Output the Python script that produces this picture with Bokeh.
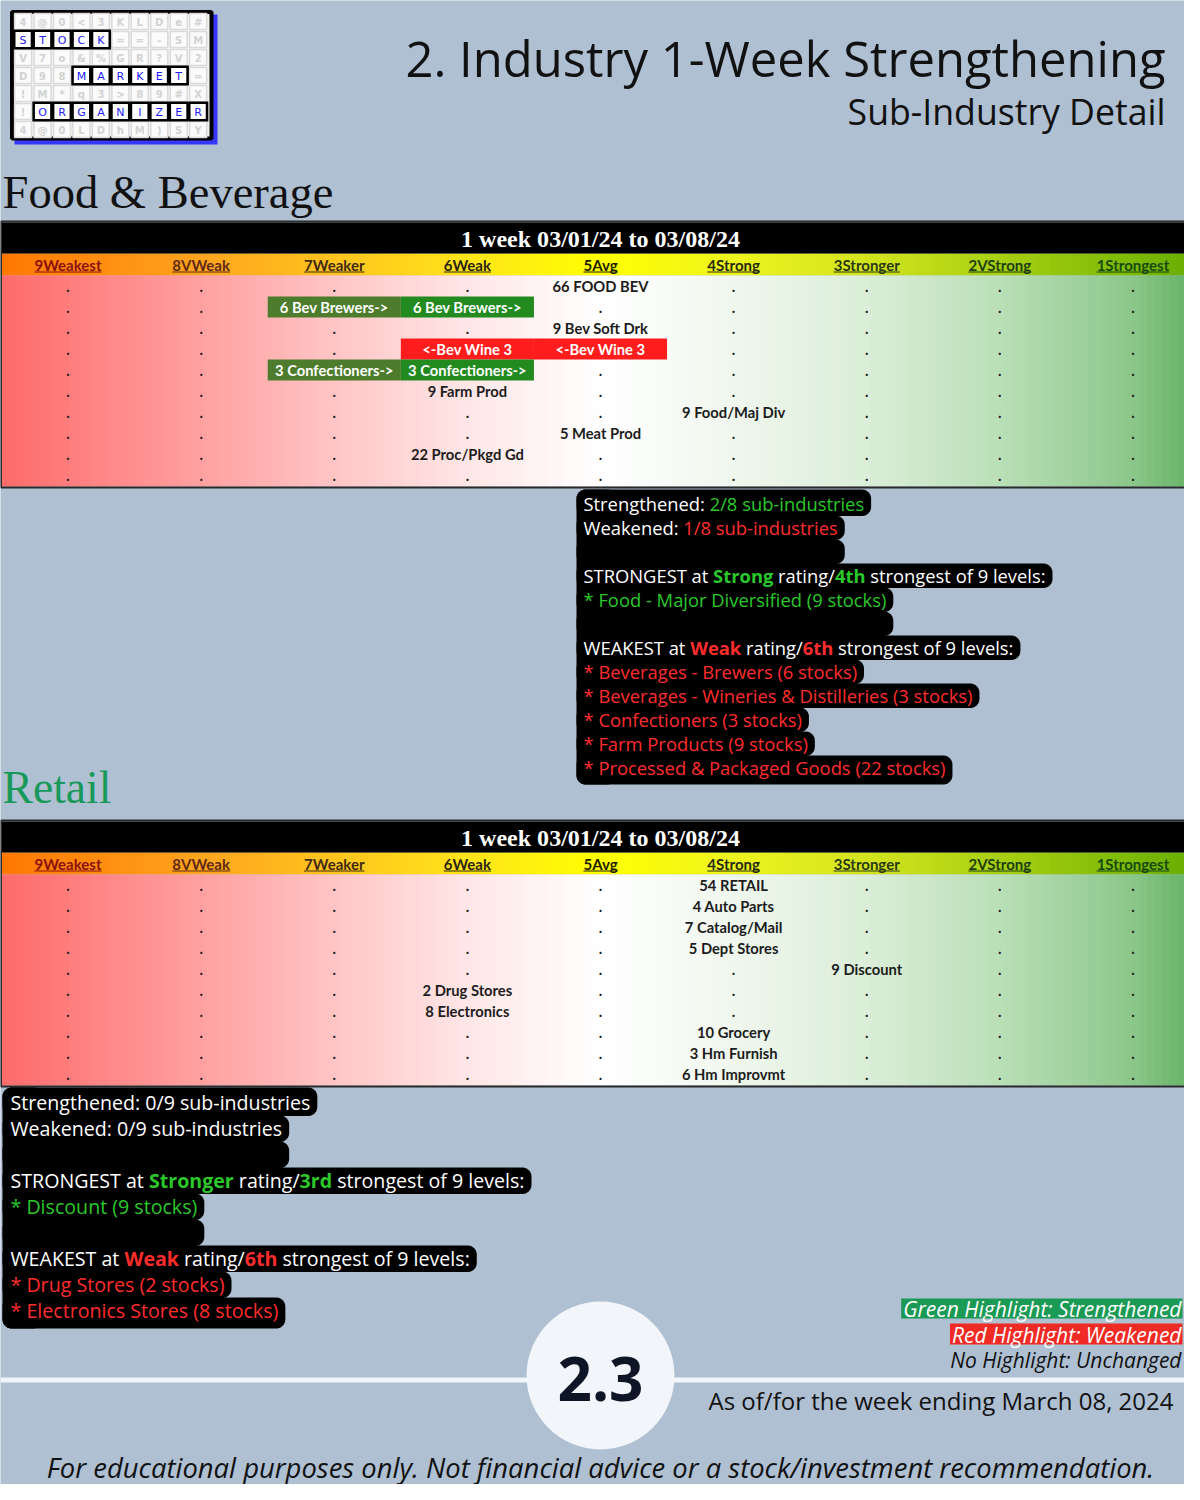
import subprocess
from functools import lru_cache
import numpy as np
from bokeh.plotting import figure
from bokeh.models import Range1d, ColumnDataSource
from bokeh.core.properties import value
from bokeh.embed import file_html
from bokeh.resources import INLINE

try:
    from PIL import ImageFont
except Exception:
    ImageFont = None

# ---------------- data ----------------
title_text = "2. Industry 1-Week Strengthening"
subtitle_text = "Sub-Industry Detail"
period_text = "1 week 03/01/24 to 03/08/24"
levels = ["9Weakest", "8VWeak", "7Weaker", "6Weak", "5Avg", "4Strong", "3Stronger", "2VStrong", "1Strongest"]
level_nums = [9, 8, 7, 6, 5, 4, 3, 2, 1]

food_name = "Food & Beverage"
food_labels = ["66 FOOD BEV", "6 Bev Brewers", "9 Bev Soft Drk", "Bev Wine 3", "3 Confectioners",
               "9 Farm Prod", "9 Food/Maj Div", "5 Meat Prod", "22 Proc/Pkgd Gd"]
food_now = [5, 6, 5, 6, 6, 6, 4, 5, 6]
food_prev = [5, 7, 5, 5, 7, 6, 4, 5, 6]
food_counts = [2, 1, 8]
food_strong = ["Strong", "4th", ["Food - Major Diversified (9 stocks)"]]
food_weak = ["Weak", "6th", ["Beverages - Brewers (6 stocks)",
                             "Beverages - Wineries & Distilleries (3 stocks)",
                             "Confectioners (3 stocks)",
                             "Farm Products (9 stocks)",
                             "Processed & Packaged Goods (22 stocks)"]]

retail_name = "Retail"
retail_labels = ["54 RETAIL", "4 Auto Parts", "7 Catalog/Mail", "5 Dept Stores", "9 Discount",
                 "2 Drug Stores", "8 Electronics", "10 Grocery", "3 Hm Furnish", "6 Hm Improvmt"]
retail_now = [4, 4, 4, 4, 3, 6, 6, 4, 4, 4]
retail_prev = [4, 4, 4, 4, 3, 6, 6, 4, 4, 4]
retail_counts = [0, 0, 9]
retail_strong = ["Stronger", "3rd", ["Discount (9 stocks)"]]
retail_weak = ["Weak", "6th", ["Drug Stores (2 stocks)", "Electronics Stores (8 stocks)"]]

legend_texts = ["Green Highlight: Strengthened", "Red Highlight: Weakened", "No Highlight: Unchanged"]
section_no = "2.3"
asof_text = "As of/for the week ending March 08, 2024"
footer_text = "For educational purposes only. Not financial advice or a stock/investment recommendation."
logo_rows = ["4@0<3KLDe#", "STOCK==-SM", "V7o&%GR?V2", "D98MARKET=", "!M*q3>89#X", "!ORGANIZER", "4@0LDhM)SY"]
logo_words = [(1, 0, 5), (3, 3, 6), (5, 1, 9)]

# ---------------- styles ----------------
BG = "#aec0d2"
WHITE = "#ffffff"
GREEN_T = "#2ac82a"
RED_T = "#ff2c2c"
SANS = "Open Sans"
TABLE_FONT = "Lato"
SERIF = "Liberation Serif"
header_colors = ["#8b1010", "#5e2a14", "#3f2a10", "#2b2510", "#1e1e00", "#262a10", "#2a3a14", "#1e4010", "#174a12"]
header_stops = [(0.0, "#ff7800"), (0.167, "#ffa41e"), (0.278, "#ffc41e"), (0.389, "#ffe41a"), (0.5, "#ffff00"),
                (0.611, "#eef41e"), (0.722, "#d3e41e"), (0.833, "#a8cf12"), (0.944, "#7cba04"), (1.0, "#66ac00")]
body_stops = [(0.0, "#ff6b6b"), (0.167, "#ffa0a0"), (0.278, "#ffc5c5"), (0.389, "#ffe6e6"), (0.5, "#ffffff"),
              (0.611, "#f0f7ee"), (0.722, "#dbeed8"), (0.833, "#badfb7"), (0.944, "#8cc78a"), (1.0, "#60af60")]


# ---------------- font metrics ----------------
@lru_cache(None)
def _font_obj(family, bold, italic):
    if ImageFont is None:
        return None
    st = []
    if bold:
        st.append("bold")
    if italic:
        st.append("italic")
    pat = family + ((":" + ":".join(st)) if st else "")
    try:
        path = subprocess.run(["fc-match", "-f", "%{file}", pat], capture_output=True,
                              text=True, timeout=10).stdout.strip()
        if not path:
            return None
        f = ImageFont.truetype(path, 100)
        try:
            names = f.get_variation_names()
            if bold and italic:
                want = ("Bold Italic", b"Bold Italic")
            elif bold:
                want = ("Bold", b"Bold")
            elif italic:
                want = ("Italic", b"Italic")
            else:
                want = ("Regular", b"Regular")
            for n in names:
                if n in want:
                    f.set_variation_by_name(n)
                    break
        except Exception:
            pass
        return f
    except Exception:
        return None


def tw(s, family, size, bold=False, italic=False):
    f = _font_obj(family, bold, italic)
    if f is not None:
        try:
            return f.getlength(s) * size / 100.0
        except Exception:
            pass
    return len(s) * size * (0.58 if bold else 0.53)


def fit(s, family, target, lo, hi, bold=False, italic=False):
    w = tw(s, family, 100, bold, italic)
    if w <= 0:
        return (lo + hi) / 2
    return max(lo, min(hi, 100.0 * target / w))


def hex2rgb(h):
    return tuple(int(h[i:i + 2], 16) for i in (1, 3, 5))


def interp(stops, f):
    for (f0, c0), (f1, c1) in zip(stops[:-1], stops[1:]):
        if f <= f1:
            t = 0 if f1 == f0 else (f - f0) / (f1 - f0)
            a, b = hex2rgb(c0), hex2rgb(c1)
            return "#%02x%02x%02x" % tuple(int(round(a[k] + (b[k] - a[k]) * t)) for k in range(3))
    return stops[-1][1]


# ---------------- figure ----------------
p = figure(width=1184, height=1484, x_range=Range1d(0, 1184), y_range=Range1d(1484, 0),
           output_backend="svg", toolbar_location=None, x_axis_location=None, y_axis_location=None,
           min_border=0, background_fill_color=BG, border_fill_color=BG, outline_line_color=None)
p.grid.visible = False

texts = {}


def add_text(x, y, s, size, font, color, align="left", baseline="middle", style="normal"):
    key = (round(size, 2), font, align, baseline, style)
    d = texts.setdefault(key, {"x": [], "y": [], "text": [], "color": []})
    d["x"].append(x)
    d["y"].append(y)
    d["text"].append(s)
    d["color"].append(color)


def rounded(x0, y0, x1, y1, r):
    r = min(r, (x1 - x0) / 2, (y1 - y0) / 2)
    xs, ys = [], []
    for cx, cy, a0 in [(x1 - r, y0 + r, -90), (x1 - r, y1 - r, 0), (x0 + r, y1 - r, 90), (x0 + r, y0 + r, 180)]:
        for a in np.linspace(a0, a0 + 90, 7):
            xs.append(cx + r * np.cos(np.radians(a)))
            ys.append(cy + r * np.sin(np.radians(a)))
    return xs, ys


# ---------------- logo ----------------
LX = [22.6 + 19.45 * i for i in range(10)]
LY = [21 + 18 * j for j in range(7)]
p.quad(left=[14], right=[217], top=[14], bottom=[144], fill_color="#3636ff", line_color=None)
p.quad(left=[11.5], right=[211], top=[11.5], bottom=[138], fill_color="#f4f4f4", line_color="black", line_width=4)
word_cells = set()
for (r, c0, n) in logo_words:
    for c in range(c0, c0 + n):
        word_cells.add((r, c))
fl, fr, ft, fb = [], [], [], []
for j, row in enumerate(logo_rows):
    for i, ch in enumerate(row):
        if (j, i) in word_cells:
            continue
        fl.append(LX[i] - 8.5); fr.append(LX[i] + 8.5); ft.append(LY[j] - 8); fb.append(LY[j] + 8)
        add_text(LX[i], LY[j] + 0.5, ch, 10, "DejaVu Sans", "#d2d2d2", "center", "middle", "bold")
p.quad(left=fl, right=fr, top=ft, bottom=fb, fill_color="#fbfbfb", line_color="#dadada", line_width=1.5)
for (r, c0, n) in logo_words:
    p.quad(left=[LX[c0] - 10.2], right=[LX[c0 + n - 1] + 10.2], top=[LY[r] - 10], bottom=[LY[r] + 10],
           fill_color="black", line_color=None)
    p.quad(left=[LX[c] - 7.6 for c in range(c0, c0 + n)], right=[LX[c] + 7.6 for c in range(c0, c0 + n)],
           top=[LY[r] - 7.6] * n, bottom=[LY[r] + 7.6] * n, fill_color="white", line_color=None)
    for c in range(c0, c0 + n):
        add_text(LX[c], LY[r] + 0.5, logo_rows[r][c], 11, "DejaVu Sans", "#1a1aff", "center", "middle", "normal")

# ---------------- titles ----------------
add_text(1165, 57, title_text, fit(title_text, SANS, 760, 40, 58), SANS, "#111111", "right", "middle")
add_text(1165, 110, subtitle_text, fit(subtitle_text, SANS, 318, 28, 40), SANS, "#111111", "right", "middle")
add_text(2, 192, food_name, fit(food_name, SERIF, 331, 38, 54), SERIF, "#111111", "left", "middle")
add_text(2, 787, retail_name, fit(retail_name, SERIF, 109, 38, 54), SERIF, "#18995a", "left", "middle")

# ---------------- tables ----------------
TL, TR = 1.0, 1199.0
CW = (TR - TL) / 9
col_x = [TL + CW * (i + 0.5) for i in range(9)]
TSIZE = fit("22 Proc/Pkgd Gd", TABLE_FONT, 113, 12.5, 15.5, bold=True)
BAR_SIZE = fit(period_text, SERIF, 279, 18, 26, bold=True)
HDR_SIZE = fit("9Weakest", TABLE_FONT, 67, 12.5, 15.5, bold=True)


def draw_table(top, labels, now, prev, nrows=10):
    bar_t, bar_b = top + 1, top + 32
    hdr_b = top + 54
    body_b = top + 265
    n = 160
    edges = np.linspace(TL, TR, n + 1)
    mids = (edges[:-1] + edges[1:]) / 2
    frac = (mids - TL) / (TR - TL)
    p.quad(left=edges[:-1], right=edges[1:] + 0.7, top=[bar_b] * n, bottom=[hdr_b] * n,
           fill_color=[interp(header_stops, f) for f in frac], line_color=None)
    p.quad(left=edges[:-1], right=edges[1:] + 0.7, top=[hdr_b] * n, bottom=[body_b] * n,
           fill_color=[interp(body_stops, f) for f in frac], line_color=None)
    p.quad(left=[TL], right=[TR], top=[bar_t], bottom=[bar_b], fill_color="black", line_color=None)
    p.quad(left=[0.5], right=[1199.5], top=[top], bottom=[body_b + 1], fill_color=None,
           line_color="#2a2a2a", line_width=2)
    add_text(600, (bar_t + bar_b) / 2 + 1, period_text, BAR_SIZE, SERIF, "white", "center", "middle", "bold")
    hy = top + 43
    for i, lab in enumerate(levels):
        add_text(col_x[i], hy, lab, HDR_SIZE, TABLE_FONT, header_colors[i], "center", "middle", "bold")
        w = tw(lab, TABLE_FONT, HDR_SIZE, bold=True)
        p.line([col_x[i] - w / 2, col_x[i] + w / 2], [hy + 7.5, hy + 7.5], line_color=header_colors[i], line_width=1.2)
    for r in range(nrows):
        y = hdr_b + 10.5 + 21 * r
        lab = labels[r] if r < len(labels) else ""
        nw = now[r] if r < len(now) else 0
        pv = prev[r] if r < len(prev) else 0
        hl = {}
        text = lab
        if lab and nw != pv:
            stronger = nw < pv
            text = lab + "->" if stronger else "<-" + lab
            cp, cn = level_nums.index(pv), level_nums.index(nw)
            if stronger:
                hl[cp], hl[cn] = "#4c7c2c", "#228a1f"
            else:
                hl[cp], hl[cn] = "#ff1c1c", "#ff1c1c"
            for c, colr in hl.items():
                p.quad(left=[TL + CW * c], right=[TL + CW * (c + 1)], top=[y - 10.5], bottom=[y + 10.5],
                       fill_color=colr, line_color=None)
        for c in range(9):
            if c in hl:
                add_text(col_x[c], y, text, TSIZE, TABLE_FONT, "white", "center", "middle", "bold")
            elif lab and level_nums[c] == nw:
                add_text(col_x[c], y, text, TSIZE, TABLE_FONT, "#1c1c1c", "center", "middle", "bold")
            else:
                add_text(col_x[c], y, ".", TSIZE, TABLE_FONT, "#1c1c1c", "center", "middle", "bold")


draw_table(221, food_labels, food_now, food_prev)
draw_table(820, retail_labels, retail_now, retail_prev)


# ---------------- summary boxes ----------------
def summary_lines(counts, strong, weak):
    s_n, w_n, total = counts
    L = [[("Strengthened: ", WHITE, False), (f"{s_n}/{total} sub-industries", GREEN_T if s_n else WHITE, False)],
         [("Weakened: ", WHITE, False), (f"{w_n}/{total} sub-industries", RED_T if w_n else WHITE, False)],
         []]
    L.append([("STRONGEST at ", WHITE, False), (strong[0], GREEN_T, True), (" rating/", WHITE, False),
              (strong[1], GREEN_T, True), (f" strongest of {len(levels)} levels:", WHITE, False)])
    for it in strong[2]:
        L.append([("* " + it, GREEN_T, False)])
    L.append([])
    L.append([("WEAKEST at ", WHITE, False), (weak[0], RED_T, True), (" rating/", WHITE, False),
              (weak[1], RED_T, True), (f" strongest of {len(levels)} levels:", WHITE, False)])
    for it in weak[2]:
        L.append([("* " + it, RED_T, False)])
    return L


def seg_width(segs, size):
    return sum(tw(s, SANS, size, b) for s, _, b in segs)


def summary_box(lines, x_left, text_x, y0, lh, target_w, top_extra, bot_extra):
    widest = max(lines, key=lambda L: seg_width(L, 100))
    size = max(15, min(22, 100.0 * target_w / seg_width(widest, 100)))
    xs_all, ys_all = [], []
    prev_end = text_x
    n = len(lines)
    for i, L in enumerate(lines):
        y = y0 + i * lh
        end = text_x + seg_width(L, size) if L else prev_end
        prev_end = end
        t = y - lh / 2 - (top_extra if i == 0 else 0)
        b = y + lh / 2 + (bot_extra if i == n - 1 else 0.5)
        xs, ys = rounded(x_left, t, end + 7, b, 9)
        xs_all.append(xs); ys_all.append(ys)
        x = text_x
        for s, colr, bold in L:
            lead = len(s) - len(s.lstrip(" "))
            xx = x + tw(s[:lead], SANS, size, bold)
            add_text(xx, y, s.strip(), size, SANS, colr, "left", "middle", "bold" if bold else "normal")
            x += tw(s, SANS, size, bold)
    top = y0 - lh / 2 - top_extra
    bot = y0 + (n - 1) * lh + lh / 2 + bot_extra
    xs, ys = rounded(x_left, top, x_left + 40, bot, 9)
    xs_all.insert(0, xs); ys_all.insert(0, ys)
    p.patches(xs_all, ys_all, fill_color="black", line_color=None)


summary_box(summary_lines(food_counts, food_strong, food_weak), 576, 583, 503, 24, 462, 2, 5)
summary_box(summary_lines(retail_counts, retail_strong, retail_weak), 2, 10, 1102, 26, 514, 2, 5)

# ---------------- bottom ----------------
LEG_R = 1181
LEG = fit(legend_texts[0], SANS, 279, 15, 21, italic=True)
w0 = tw(legend_texts[0], SANS, LEG, italic=True)
w1 = tw(legend_texts[1], SANS, LEG, italic=True)
p.quad(left=[LEG_R - w0 - 2], right=[LEG_R + 1], top=[1298], bottom=[1318], fill_color="#1b9a55", line_color=None)
p.quad(left=[LEG_R - w1 - 2], right=[LEG_R + 1], top=[1323], bottom=[1344], fill_color="#f02a25", line_color=None)
add_text(LEG_R, 1308.5, legend_texts[0], LEG, SANS, "white", "right", "middle", "italic")
add_text(LEG_R, 1334, legend_texts[1], LEG, SANS, "white", "right", "middle", "italic")
add_text(LEG_R, 1359.5, legend_texts[2], LEG, SANS, "#111111", "right", "middle", "italic")

p.quad(left=[0], right=[1200], top=[1377], bottom=[1382], fill_color="#f2f5f9", line_color=None)
p.circle(x=[600], y=[1375], radius=74, fill_color="#f2f5f9", line_color=None)
add_text(600, 1378, section_no, fit(section_no, SANS, 86, 50, 76, bold=True), SANS, "#0e1526",
         "center", "middle", "bold")
add_text(708, 1400, asof_text, fit(asof_text, SANS, 465, 18, 26), SANS, "#111111", "left", "middle")
add_text(600, 1467, footer_text, fit(footer_text, SANS, 1108, 18, 29, italic=True), SANS, "#111111",
         "center", "middle", "italic")

# ---------------- render texts ----------------
for (size, font, align, baseline, style), d in texts.items():
    p.text(x="x", y="y", text="text", source=ColumnDataSource(d), text_color="color",
           text_font=value(font), text_font_size=value(f"{size:.2f}px"), text_font_style=style,
           text_align=align, text_baseline=baseline)

open("out.html", "w").write(file_html(p, INLINE))
